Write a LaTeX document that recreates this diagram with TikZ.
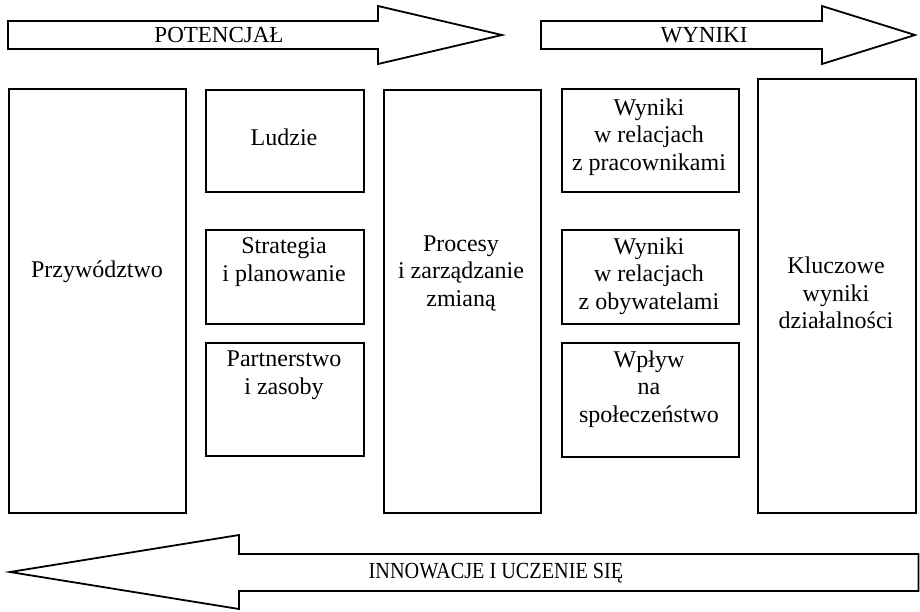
\documentclass[tikz,border=0pt]{standalone}
\usepackage{fontspec}
\setmainfont{Liberation Serif}
\begin{document}
\begin{tikzpicture}[x=1pt,y=-1pt,
  every path/.style={line width=1.8pt, line join=miter},
  box/.style={draw, line width=1.8pt, inner sep=0pt, anchor=north west},
  txt/.style={align=center, font=\fontsize{24}{27.5}\selectfont, inner sep=0pt},
  arrowtxt/.style={font=\fontsize{23}{26}\selectfont, inner sep=0pt}]
\useasboundingbox (0,0) rectangle (920,611);
% top arrows
\draw (8,21) -- (378,21) -- (378,6) -- (502,35) -- (378,64) -- (378,49) -- (8,49) -- cycle;
\node[arrowtxt] (pot) at (219,35) {POTENCJAŁ};
\draw (541,21) -- (822,21) -- (822,6) -- (915,35) -- (822,64) -- (822,49) -- (541,49) -- cycle;
\node[arrowtxt] (wyn) at (704,35) {WYNIKI};
% bottom arrow
\draw (918.5,554) -- (239,554) -- (239,535) -- (10,572) -- (239,609) -- (239,591) -- (918.5,591) -- cycle;
\node[arrowtxt] (inn) at (496,573) {\scalebox{0.88}[1]{INNOWACJE I UCZENIE SIĘ}};
% boxes
\node[box, minimum width=177pt, minimum height=424pt] (b1) at (8,88) {};
\node[box, minimum width=158pt, minimum height=102pt] (b2) at (205,89) {};
\node[box, minimum width=158pt, minimum height=94pt] (b3) at (205,229) {};
\node[box, minimum width=158pt, minimum height=113pt] (b4) at (205,342) {};
\node[box, minimum width=157pt, minimum height=423pt] (b5) at (383,89) {};
\node[box, minimum width=177pt, minimum height=103pt] (b6) at (561,88) {};
\node[box, minimum width=177pt, minimum height=94pt] (b7) at (561,229) {};
\node[box, minimum width=177pt, minimum height=114pt] (b8) at (561,342) {};
\node[box, minimum width=158pt, minimum height=434pt] (b9) at (757,78) {};
% texts
\node[txt] (t1) at (97,272) {Przywództwo};
\node[txt] (t2) at (284,137) {Ludzie};
\node[txt] (t3) at (284,262) {Strategia\\i planowanie};
\node[txt] (t4) at (284,375) {Partnerstwo\\i zasoby};
\node[txt] (t5) at (461,273) {Procesy\\i zarządzanie\\zmianą};
\node[txt] (t6) at (649,137) {Wyniki\\w relacjach\\z pracownikami};
\node[txt] (t7) at (649,276) {Wyniki\\w relacjach\\z obywatelami};
\node[txt] (t8) at (649,389) {Wpływ\\na\\społeczeństwo};
\node[txt] (t9) at (836,293) {Kluczowe\\wyniki\\działalności};
\end{tikzpicture}
\end{document}
